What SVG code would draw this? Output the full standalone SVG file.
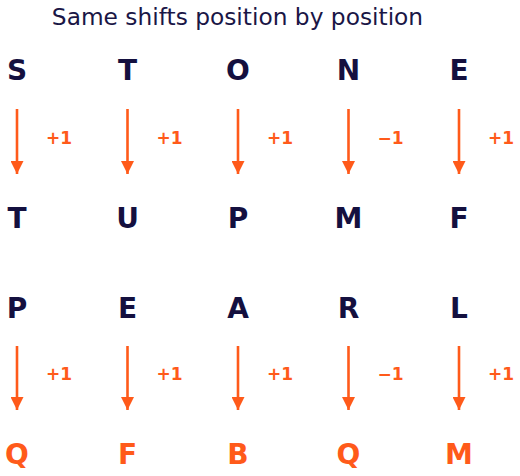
<svg xmlns="http://www.w3.org/2000/svg" width="520" height="476" viewBox="0 0 520 476">
<defs>
<marker id="ah" viewBox="0 0 10 10" refX="10" refY="5" markerWidth="5" markerHeight="5" markerUnits="strokeWidth" orient="auto">
<path d="M0,0 L10,5 L0,10 z" fill="#ff5a1a"/>
</marker>
<style>
.t{font-family:"DejaVu Sans",sans-serif;font-size:23.3px;fill:#1a1646;text-anchor:middle}
.L{font-family:"DejaVu Sans",sans-serif;font-weight:bold;font-size:28px;fill:#14103f;text-anchor:middle}
.o{fill:#ff5a1a}
.d{font-family:"DejaVu Sans",sans-serif;font-weight:bold;font-size:17px;fill:#ff5a1a}
.a{stroke:#ff5a1a;stroke-width:2.6;fill:none}
</style>
</defs>
<rect width="520" height="476" fill="#ffffff"/>
<text class="t" x="237.5" y="25">Same shifts position by position</text>
<g id="row1">
<text class="L" x="17" y="80">S</text>
<text class="L" x="127.5" y="80">T</text>
<text class="L" x="238" y="80">O</text>
<text class="L" x="348.5" y="80">N</text>
<text class="L" x="459" y="80">E</text>
</g>
<g id="row2">
<text class="L" x="17" y="228">T</text>
<text class="L" x="127.5" y="228">U</text>
<text class="L" x="238" y="228">P</text>
<text class="L" x="348.5" y="228">M</text>
<text class="L" x="459" y="228">F</text>
</g>
<g id="row3">
<text class="L" x="17" y="318">P</text>
<text class="L" x="127.5" y="318">E</text>
<text class="L" x="238" y="318">A</text>
<text class="L" x="348.5" y="318">R</text>
<text class="L" x="459" y="318">L</text>
</g>
<g id="row4">
<text class="L o" x="17" y="464">Q</text>
<text class="L o" x="127.5" y="464">F</text>
<text class="L o" x="238" y="464">B</text>
<text class="L o" x="348.5" y="464">Q</text>
<text class="L o" x="459" y="464">M</text>
</g>
<g id="connectors">
<path class="a" d="M17,109V174" marker-end="url(#ah)"/>
<path class="a" d="M127.5,109V174" marker-end="url(#ah)"/>
<path class="a" d="M238,109V174" marker-end="url(#ah)"/>
<path class="a" d="M348.5,109V174" marker-end="url(#ah)"/>
<path class="a" d="M459,109V174" marker-end="url(#ah)"/>
<path class="a" d="M17,346V410" marker-end="url(#ah)"/>
<path class="a" d="M127.5,346V410" marker-end="url(#ah)"/>
<path class="a" d="M238,346V410" marker-end="url(#ah)"/>
<path class="a" d="M348.5,346V410" marker-end="url(#ah)"/>
<path class="a" d="M459,346V410" marker-end="url(#ah)"/>
</g>
<g id="labels">
<text class="d" x="46" y="144">+1</text>
<text class="d" x="156.5" y="144">+1</text>
<text class="d" x="267" y="144">+1</text>
<text class="d" x="377.5" y="144">−1</text>
<text class="d" x="488" y="144">+1</text>
<text class="d" x="46" y="380">+1</text>
<text class="d" x="156.5" y="380">+1</text>
<text class="d" x="267" y="380">+1</text>
<text class="d" x="377.5" y="380">−1</text>
<text class="d" x="488" y="380">+1</text>
</g>
</svg>
